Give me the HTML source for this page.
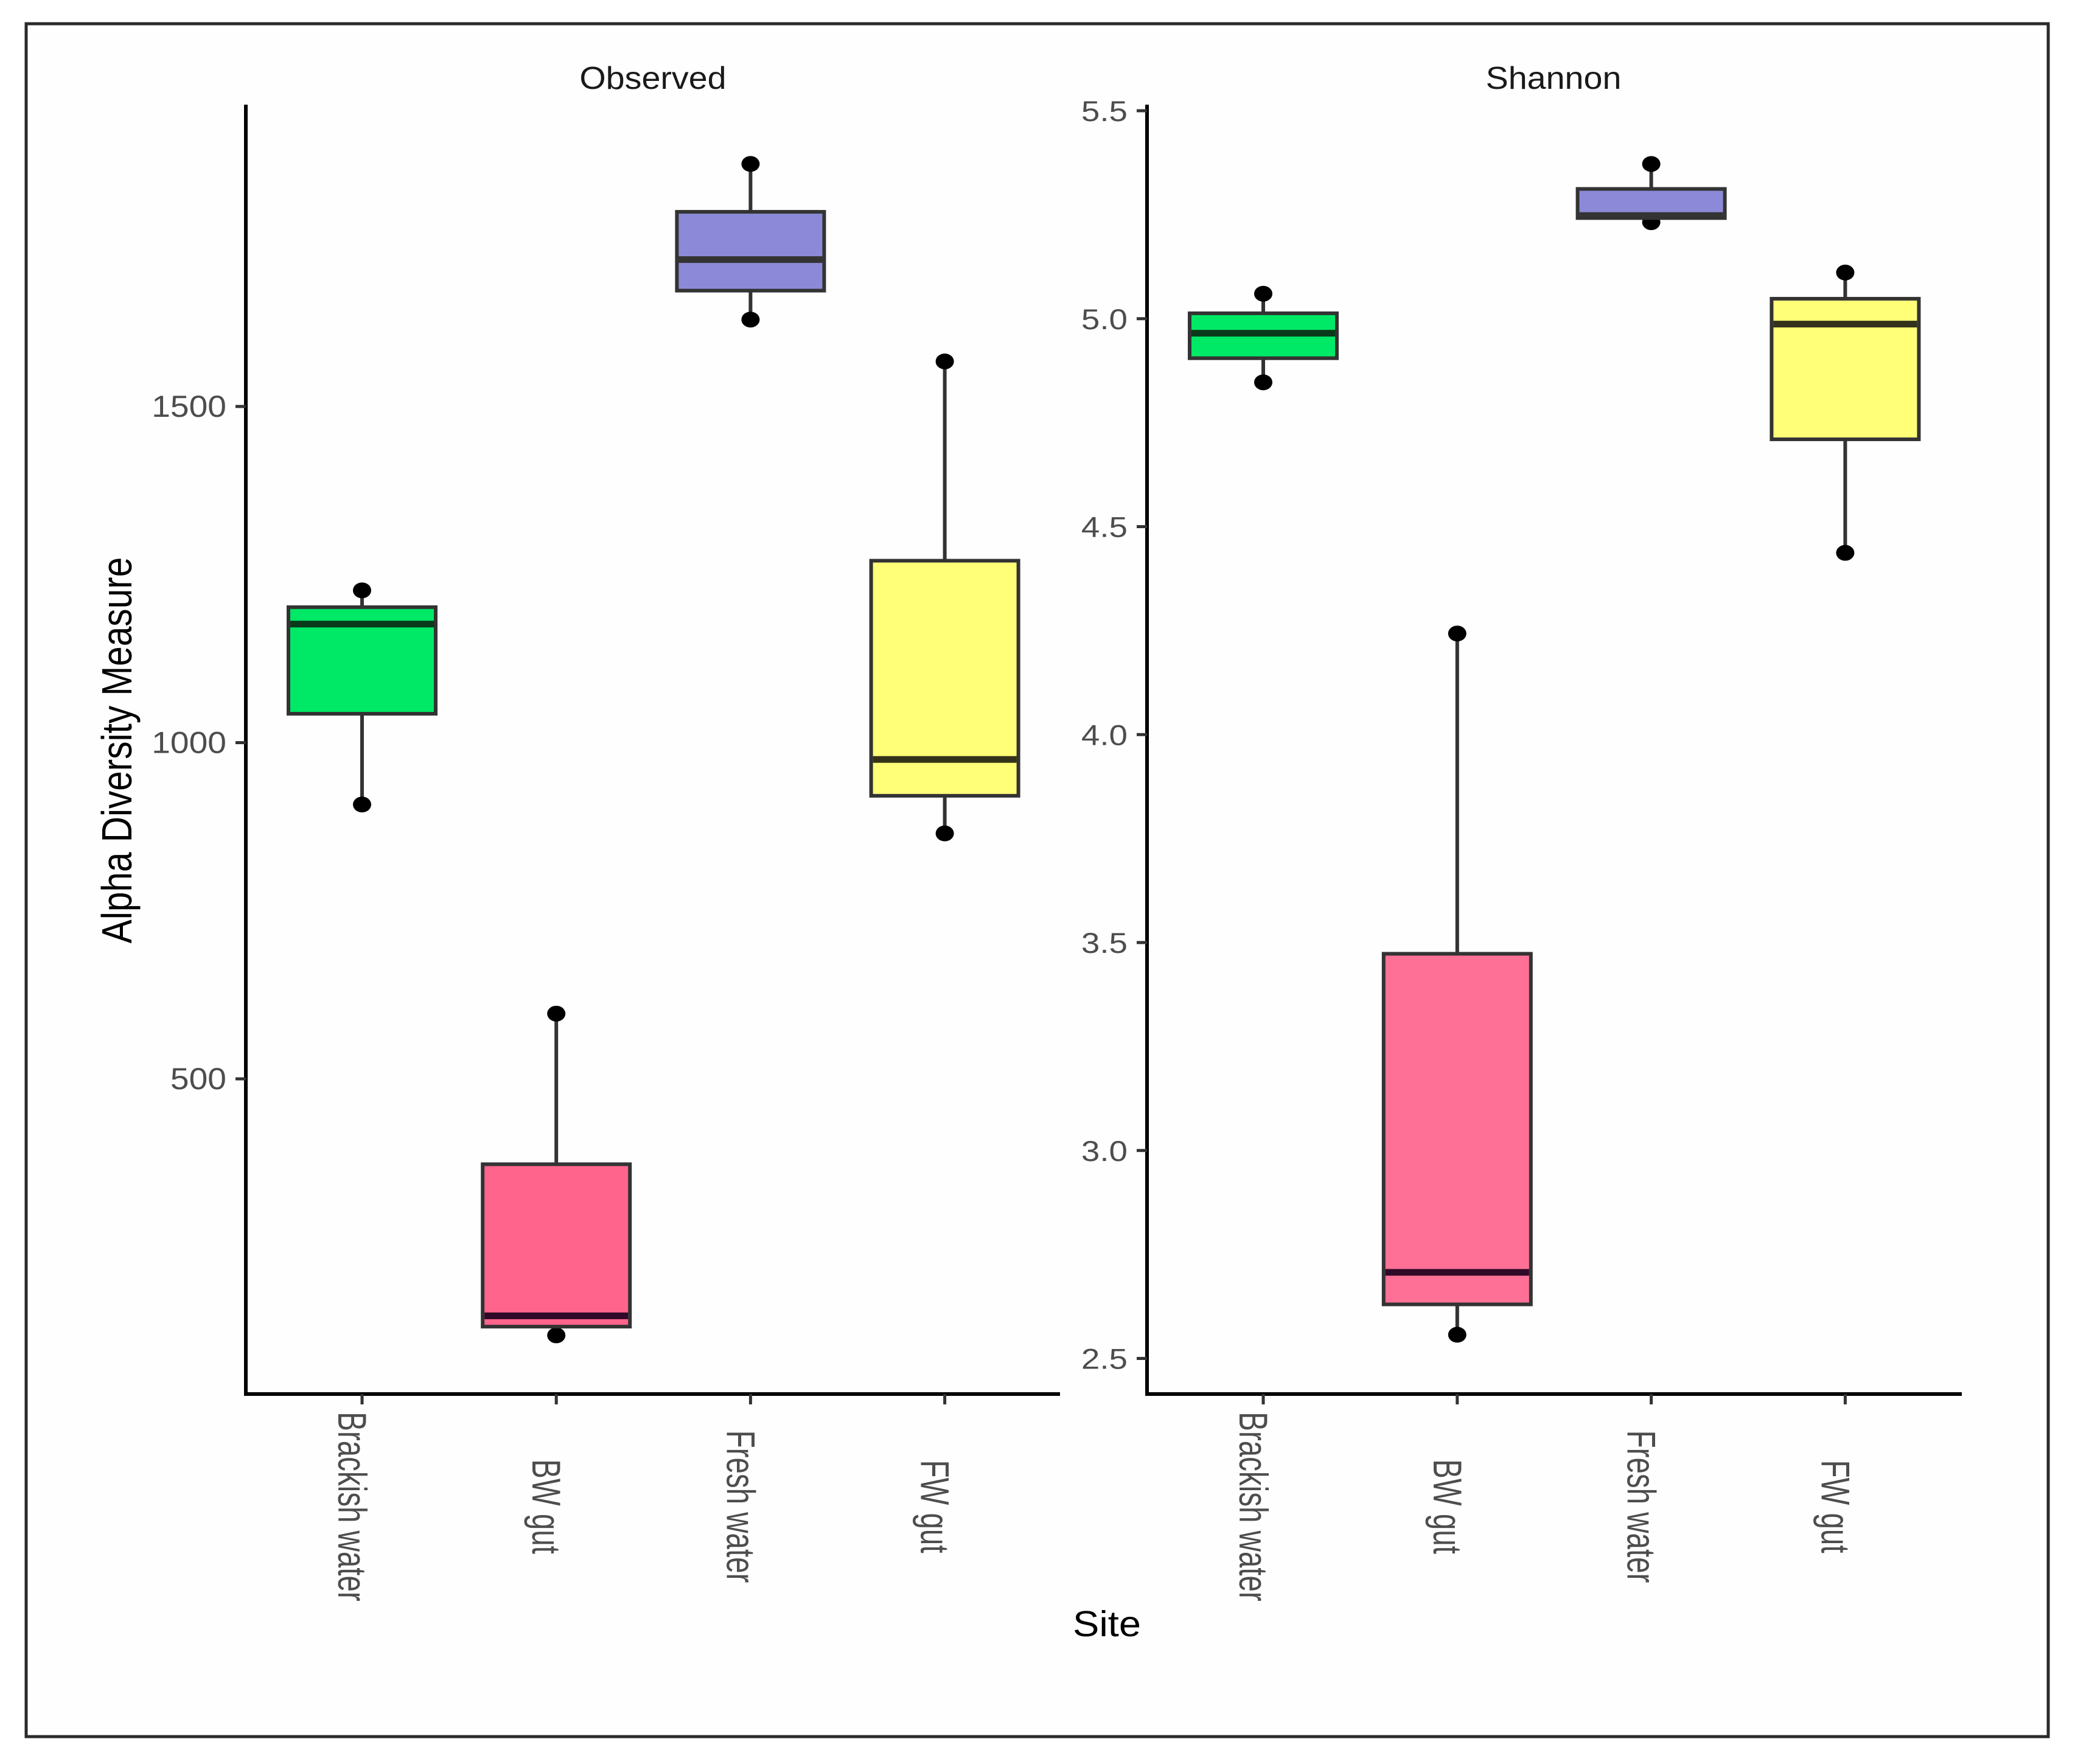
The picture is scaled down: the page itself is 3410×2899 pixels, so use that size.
<!DOCTYPE html>
<html lang="en">
<head>
<meta charset="utf-8">
<title>Alpha Diversity Measure by Site</title>
<style>
html,body{margin:0;padding:0;background:#fff;width:3410px;height:2899px;overflow:hidden}
svg{display:block}
text{font-family:"Liberation Sans",sans-serif}
</style>
</head>
<body>
<svg id="chart" xmlns="http://www.w3.org/2000/svg" width="3410" height="2899" viewBox="0 0 3410 2899">
<rect x="0" y="0" width="3410" height="2899" fill="#fff"/>
<rect x="43" y="39" width="3323" height="2815" fill="#fefefe" stroke="#2a2a2a" stroke-width="5"/>
<text transform="translate(216,1233) rotate(-90) scale(1.01,1.2)" font-size="58" text-anchor="middle" fill="#000">Alpha Diversity Measure</text>
<text transform="translate(1819,2689) scale(1.12,1.03)" font-size="58" text-anchor="middle" fill="#000">Site</text>
<text transform="translate(1073,146) scale(1.21,1.12)" font-size="46" text-anchor="middle" fill="#1a1a1a">Observed</text>
<text transform="translate(2553,146) scale(1.21,1.12)" font-size="46" text-anchor="middle" fill="#1a1a1a">Shannon</text>
<g id="plot"></g>
</svg>
<script>
const categories = ['Brackish water', 'BW gut', 'Fresh water', 'FW gut'];

const observedTicks = [500, 1000, 1500];
const observedTickLabels = ['500', '1000', '1500'];
const observedHigh = [1226.5, 597, 1860.7, 1567];
const observedQ3 = [1201.5, 373, 1789.5, 1270.6];
const observedMedian = [1176.4, 147.5, 1718.4, 975];
const observedQ1 = [1043, 131.5, 1672.3, 921];
const observedLow = [908, 118.5, 1629.2, 865];

const shannonTicks = [2.5, 3.0, 3.5, 4.0, 4.5, 5.0, 5.5];
const shannonTickLabels = ['2.5', '3.0', '3.5', '4.0', '4.5', '5.0', '5.5'];
const shannonHigh = [5.06, 4.243, 5.372, 5.111];
const shannonQ3 = [5.013, 3.473, 5.312, 5.048];
const shannonMedian = [4.965, 2.707, 5.248, 4.987];
const shannonQ1 = [4.905, 2.63, 5.242, 4.71];
const shannonLow = [4.847, 2.557, 5.232, 4.437];

const NS = 'http://www.w3.org/2000/svg';
const plot = document.getElementById('plot');
const fillsObserved = ['#00e966', '#ff648c', '#8c8ad8', '#ffff78'];
const fillsShannon = ['#00e966', '#ff7096', '#8c8ad8', '#ffff78'];
const medianColors = ['#0a3a1c', '#300a28', '#333333', '#33331a'];

function yObserved(v) { return 668 + (1500 - v) * 1.105; }
function yShannon(v) { return 182 + (5.5 - v) * 683.5; }
function xObserved(i) { return 595 + i * 319.2; }
function xShannon(i) { return 2076 + i * 318.8; }

function make(tag, attrs, parent) {
  const el = document.createElementNS(NS, tag);
  for (const k in attrs) el.setAttribute(k, attrs[k]);
  (parent || plot).appendChild(el);
  return el;
}

function drawPanel(key, axisLeft, axisRight, xf, yf, ticks, tickLabels, high, q3, med, q1, low, fills, tsx, tsy, labelShift) {
  const axisY = 2291;
  const axisTop = 172;
  const halfBox = 121;

  const yAxis = make('line', {x1: axisLeft, y1: axisTop, x2: axisLeft, y2: axisY + 3, stroke: '#000', 'stroke-width': 6});
  
  

  const xAxis = make('line', {x1: axisLeft - 3, y1: axisY, x2: axisRight, y2: axisY, stroke: '#000', 'stroke-width': 6});
  
  

  ticks.forEach(function (t, i) {
    const y = yf(t);
    const tick = make('line', {x1: axisLeft - 17, y1: y, x2: axisLeft, y2: y, stroke: '#333', 'stroke-width': 5});
    
    

    const label = make('text', {transform: 'translate(' + (axisLeft - 32) + ',' + (y + 17) + ') scale(' + tsx + ',' + tsy + ')', 'font-size': 46, 'text-anchor': 'end', fill: '#4d4d4d'});
    label.textContent = tickLabels[i];
    
    
  });

  categories.forEach(function (c, i) {
    const x = xf(i);

    const tick = make('line', {x1: x, y1: axisY, x2: x, y2: axisY + 17, stroke: '#333', 'stroke-width': 5});
    
    

    const label = make('text', {transform: 'translate(' + (x - labelShift) + ',2476) rotate(90) scale(1,1.38)', 'font-size': 47.5, 'text-anchor': 'middle', fill: '#4d4d4d'});
    label.textContent = c;
    
    

    const whisker = make('line', {x1: x, y1: yf(high[i]), x2: x, y2: yf(low[i]), stroke: '#333', 'stroke-width': 6});
    
    

    const dotHigh = make('ellipse', {cx: x, cy: yf(high[i]), rx: 15, ry: 13, fill: '#000'});
    
    

    const dotLow = make('ellipse', {cx: x, cy: yf(low[i]), rx: 15, ry: 13, fill: '#000'});
    
    

    const box = make('rect', {x: x - halfBox, y: yf(q3[i]), width: halfBox * 2, height: yf(q1[i]) - yf(q3[i]), fill: fills[i], stroke: '#333', 'stroke-width': 6});
    
    

    const median = make('line', {x1: x - halfBox + 3, y1: yf(med[i]), x2: x + halfBox - 3, y2: yf(med[i]), stroke: medianColors[i], 'stroke-width': 11});
    
    
  });
}

drawPanel('observed', 404, 1742, xObserved, yObserved, observedTicks, observedTickLabels, observedHigh, observedQ3, observedMedian, observedQ1, observedLow, fillsObserved, 1.2, 1.08, 39);
drawPanel('shannon', 1885, 3224, xShannon, yShannon, shannonTicks, shannonTickLabels, shannonHigh, shannonQ3, shannonMedian, shannonQ1, shannonLow, fillsShannon, 1.19, 1.02, 39);
</script>
</body>
</html>
